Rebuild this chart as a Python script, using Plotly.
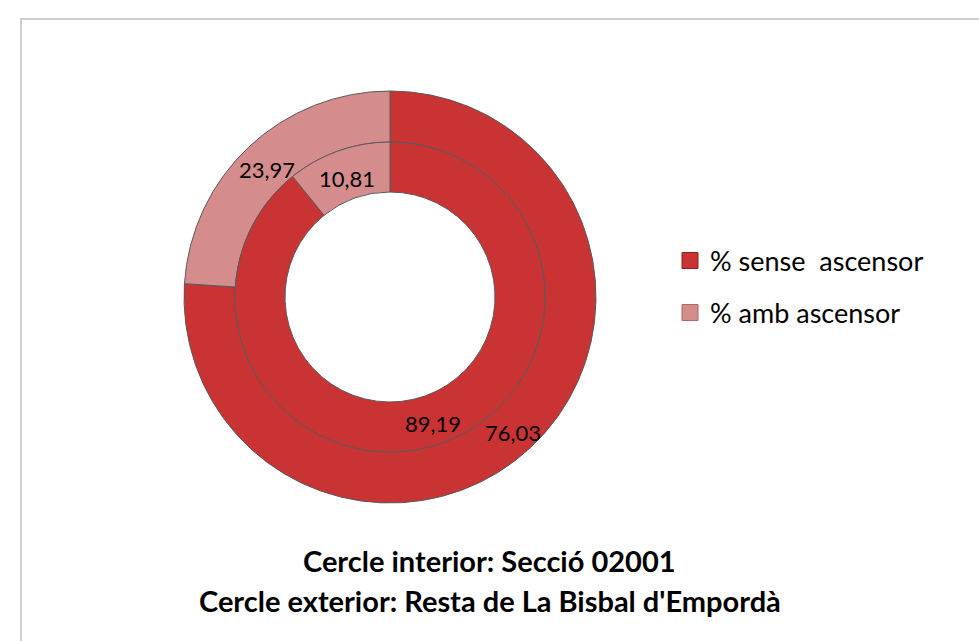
import math
import plotly.graph_objects as go

# Data
categories = ["% sense  ascensor", "% amb ascensor"]
inner_values = [89.19, 10.81]   # Cercle interior: Secció 02001
outer_values = [76.03, 23.97]   # Cercle exterior: Resta de La Bisbal d'Empordà
title_lines = ["Cercle interior: Secció 02001",
               "Cercle exterior: Resta de La Bisbal d'Empordà"]

colors = ["#C93333", "#D48C8C"]
W, H = 979, 641
FONT = "Lato"

def px_dom(x0, x1, y0, y1):
    return dict(x=[x0 / W, x1 / W], y=[(H - y1) / H, (H - y0) / H])

cx, cy = 390, 297
R_out, R_mid, R_hole = 206, 155, 105

fig = go.Figure()
fig.add_trace(go.Pie(
    labels=categories, values=outer_values, sort=False, direction="clockwise",
    rotation=0, hole=R_mid / R_out,
    domain=px_dom(cx - R_out, cx + R_out, cy - R_out, cy + R_out),
    marker=dict(colors=colors, line=dict(color="#5A5A5A", width=1)),
    textinfo="none", hoverinfo="label+value", showlegend=False,
))
fig.add_trace(go.Pie(
    labels=categories, values=inner_values, sort=False, direction="clockwise",
    rotation=0, hole=R_hole / R_mid,
    domain=px_dom(cx - R_mid, cx + R_mid, cy - R_mid, cy + R_mid),
    marker=dict(colors=colors, line=dict(color="#5A5A5A", width=1)),
    textinfo="none", hoverinfo="label+value", showlegend=False,
))

# value labels: horizontal, at the middle of each slice (as in the reference)
def slice_labels(values, r_text):
    total = sum(values)
    cum = 0.0
    anns = []
    for v in values:
        ang = math.radians((cum + v / 2) / total * 360.0)
        cum += v
        x = cx + r_text * math.sin(ang)
        y = cy - r_text * math.cos(ang)
        anns.append(dict(
            text=f"{v:.2f}".replace(".", ","), x=x / W, y=(H - y) / H,
            xref="paper", yref="paper", showarrow=False,
            xanchor="center", yanchor="middle", yshift=-4,
            font=dict(family=FONT, size=22, color="#000000"),
        ))
    return anns

value_annotations = (slice_labels(outer_values, (R_out + R_mid) / 2)
                     + slice_labels(inner_values, (R_mid + R_hole) / 2))

# legend entries (one legend box per category, for the reference's row spacing)
legend_rows = [261, 313]
for i, (cat, col) in enumerate(zip(categories, colors)):
    fig.add_trace(go.Scatter(
        x=[None], y=[None], mode="markers", name=cat,
        marker=dict(symbol="square", size=19, color=col,
                    line=dict(color="#8A2020" if i == 0 else "#A86565", width=1)),
        legend="legend" if i == 0 else "legend2", showlegend=True,
        hoverinfo="skip",
    ))

legend_common = dict(
    x=670 / W, xanchor="left", yanchor="middle",
    font=dict(family=FONT, size=27, color="#000000"),
    bgcolor="rgba(0,0,0,0)", itemsizing="trace",
)

title_annotations = [
    dict(text="<b>" + title_lines[0] + "</b>", x=0.5, y=(H - 560) / H,
         xref="paper", yref="paper", showarrow=False, xanchor="center",
         yanchor="middle", font=dict(family=FONT, size=29, color="#000000")),
    dict(text="<b>" + title_lines[1] + "</b>", x=0.5, y=(H - 600) / H,
         xref="paper", yref="paper", showarrow=False, xanchor="center",
         yanchor="middle", font=dict(family=FONT, size=29, color="#000000")),
]

fig.update_layout(
    width=W, height=H,
    margin=dict(l=0, r=0, t=0, b=0),
    paper_bgcolor="#FFFFFF", plot_bgcolor="rgba(0,0,0,0)",
    font=dict(family=FONT, color="#000000"),
    xaxis=dict(visible=False), yaxis=dict(visible=False),
    legend=dict(y=(H - legend_rows[0]) / H, **legend_common),
    legend2=dict(y=(H - legend_rows[1]) / H, **legend_common),
    shapes=[dict(type="rect", xref="paper", yref="paper",
                 x0=21 / W, x1=1.05, y0=-0.05, y1=(H - 19) / H,
                 line=dict(color="#BFBFBF", width=1.5))],
    annotations=value_annotations + title_annotations,
)

fig.write_html("out.html", config={"displayModeBar": False},
               post_script="document.body.style.margin='0px';")
